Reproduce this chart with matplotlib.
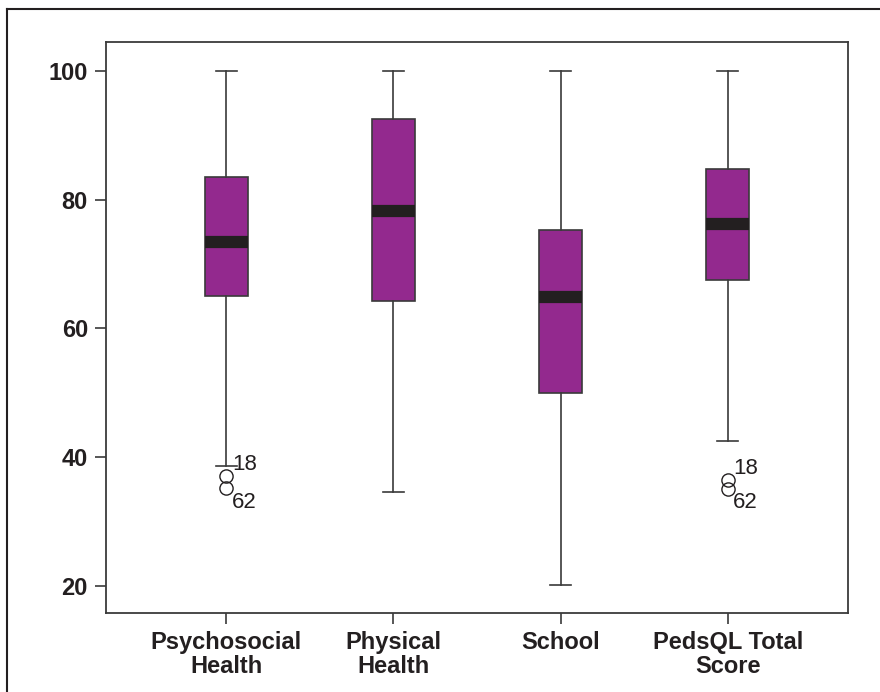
import matplotlib.pyplot as plt
from matplotlib.lines import Line2D

plt.rcParams['font.family'] = ['Liberation Sans', 'DejaVu Sans']

# box statistics
labels = ["Psychosocial\nHealth", "Physical\nHealth", "School", "PedsQL Total\nScore"]
whislo = [38.6, 34.6, 20.2, 42.5]
q1 = [65.0, 64.2, 50.0, 67.5]
med = [73.4, 78.3, 64.9, 76.2]
q3 = [83.6, 92.5, 75.3, 84.8]
whishi = [100, 100, 100, 100]
fliers = [[37.1, 35.2], [], [], [36.5, 35.1]]
flier_ids = [["18", "62"], [], [], ["18", "62"]]
yticks = [20, 40, 60, 80, 100]

dark = "#231f20"
line_col = "#3a3a3a"
purple = "#93298e"

stats = []
for i in range(len(labels)):
    stats.append(dict(whislo=whislo[i], q1=q1[i], med=med[i], q3=q3[i],
                      whishi=whishi[i], fliers=fliers[i], label=labels[i]))

fig = plt.figure(figsize=(8.8, 6.92), dpi=100)
ax = fig.add_axes([106 / 880, 1 - 613 / 692, 742 / 880, 571 / 692])

positions = [1, 2, 3, 4]
ax.bxp(stats, positions=positions, widths=0.26, patch_artist=True,
       boxprops=dict(facecolor=purple, edgecolor=line_col, linewidth=1.2),
       medianprops=dict(color=dark, linewidth=8.8, solid_capstyle='butt'),
       whiskerprops=dict(color=line_col, linewidth=1.2),
       capprops=dict(color=line_col, linewidth=1.2),
       capwidths=0.125,
       flierprops=dict(marker='o', markerfacecolor='none', markeredgecolor=dark,
                       markersize=9.5, markeredgewidth=1.0))

# outlier case numbers
for p, vals, ids in zip(positions, fliers, flier_ids):
    for k, (v, t) in enumerate(zip(vals, ids)):
        dy = 8 if k == 0 else -10
        ax.annotate(t, xy=(p, v), xytext=(4, dy), textcoords='offset points',
                    ha='left', va='center', fontsize=16, color=dark)

ax.set_xlim(0.28, 4.72)
ax.set_ylim(15.8, 104.5)
ax.set_yticks(yticks)
ax.set_yticklabels([str(t) for t in yticks], fontsize=17, fontweight='bold', color=dark)
ax.set_xticks(positions)
ax.set_xticklabels(labels, fontsize=17, fontweight='bold', color=dark, linespacing=1.05)
ax.tick_params(axis='both', direction='out', length=8, width=1.2, color=line_col, pad=5)
for s in ax.spines.values():
    s.set_color(line_col)
    s.set_linewidth(1.3)

# outer frame of the figure (top and left visible)
fig.add_artist(Line2D([7 / 880, 7 / 880], [0, 1 - 9 / 692], color=dark, linewidth=1.5,
                      transform=fig.transFigure))
fig.add_artist(Line2D([7 / 880, 1], [1 - 9 / 692, 1 - 9 / 692], color=dark, linewidth=1.5,
                      transform=fig.transFigure))

fig.savefig("out.png", dpi=100)
